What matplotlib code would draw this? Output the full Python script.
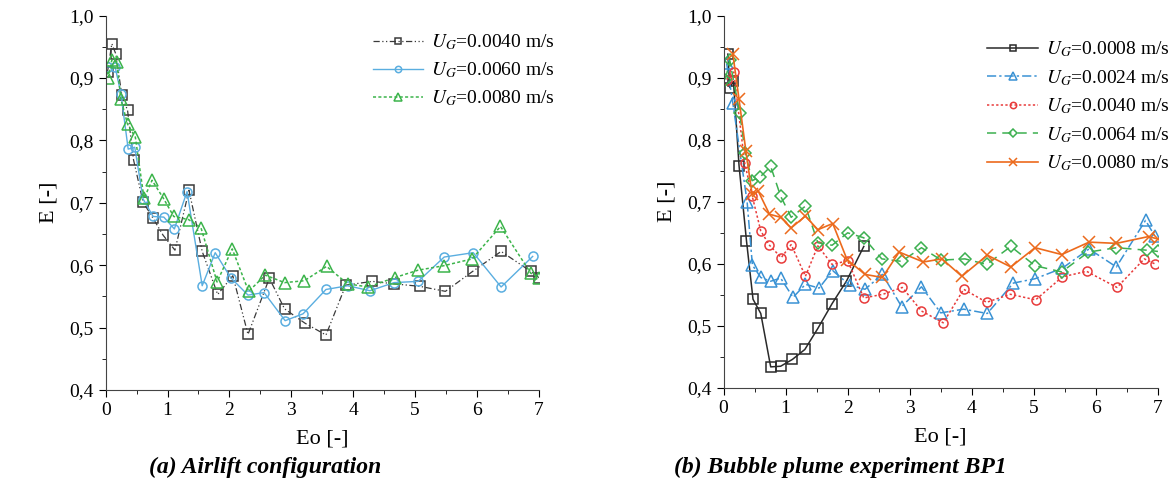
import numpy as np
import matplotlib.pyplot as plt
from matplotlib.ticker import MultipleLocator, FuncFormatter

plt.rcParams['font.family'] = ['Liberation Serif', 'DejaVu Serif']
plt.rcParams['mathtext.fontset'] = 'stix'

# (a) Airlift configuration
a_eo_40 = [0.03, 0.10, 0.166, 0.26, 0.354, 0.45, 0.605, 0.767, 0.928, 1.12, 1.346, 1.56, 1.81,
           2.055, 2.30, 2.645, 2.89, 3.22, 3.56, 3.88, 4.31, 4.66, 5.08, 5.49, 5.93, 6.39, 6.87, 7.0]
a_e_40 = [0.91, 0.955, 0.938, 0.873, 0.848, 0.769, 0.701, 0.675, 0.648, 0.624, 0.72, 0.622, 0.553,
          0.583, 0.489, 0.579, 0.530, 0.507, 0.488, 0.568, 0.574, 0.570, 0.566, 0.558, 0.590, 0.622, 0.590, 0.58]
a_eo_60 = [0.03, 0.155, 0.246, 0.364, 0.47, 0.605, 0.767, 0.94, 1.11, 1.315, 1.56, 1.77, 2.02,
           2.30, 2.56, 2.90, 3.19, 3.56, 3.91, 4.27, 4.66, 5.05, 5.47, 5.94, 6.39, 6.90]
a_e_60 = [0.918, 0.917, 0.875, 0.786, 0.789, 0.706, 0.678, 0.677, 0.658, 0.718, 0.567, 0.620, 0.580,
          0.552, 0.556, 0.511, 0.522, 0.561, 0.567, 0.559, 0.572, 0.574, 0.613, 0.620, 0.565, 0.614]
a_eo_80 = [0.04, 0.10, 0.18, 0.246, 0.354, 0.48, 0.62, 0.75, 0.94, 1.10, 1.34, 1.54, 1.80, 2.045,
           2.31, 2.58, 2.89, 3.21, 3.57, 3.91, 4.245, 4.67, 5.05, 5.46, 5.92, 6.38, 6.87, 7.0]
a_e_80 = [0.90, 0.929, 0.926, 0.866, 0.826, 0.805, 0.707, 0.736, 0.706, 0.678, 0.673, 0.660, 0.573, 0.626,
          0.558, 0.584, 0.572, 0.575, 0.598, 0.570, 0.565, 0.580, 0.592, 0.599, 0.610, 0.662, 0.587, 0.58]

# (b) Bubble plume experiment BP1
b_eo_08 = [0.07, 0.10, 0.16, 0.25, 0.37, 0.475, 0.6, 0.76, 0.92, 1.11, 1.31, 1.52, 1.75, 1.98, 2.26]
b_e_08 = [0.938, 0.884, 0.894, 0.758, 0.637, 0.543, 0.520, 0.434, 0.435, 0.446, 0.462, 0.496, 0.536, 0.572, 0.628]
b_eo_24 = [0.05, 0.15, 0.38, 0.465, 0.6, 0.76, 0.92, 1.12, 1.32, 1.54, 1.76, 2.03, 2.28, 2.56, 2.87,
           3.19, 3.50, 3.87, 4.25, 4.67, 5.02, 5.46, 5.89, 6.33, 6.80, 6.95]
b_e_24 = [0.923, 0.859, 0.700, 0.598, 0.578, 0.572, 0.577, 0.546, 0.567, 0.561, 0.589, 0.566, 0.559, 0.583, 0.531,
          0.563, 0.521, 0.527, 0.520, 0.569, 0.576, 0.593, 0.624, 0.595, 0.670, 0.645]
b_eo_40 = [0.05, 0.165, 0.34, 0.46, 0.6, 0.74, 0.93, 1.09, 1.32, 1.52, 1.75, 2.0, 2.26, 2.57, 2.88,
           3.19, 3.54, 3.87, 4.24, 4.62, 5.03, 5.46, 5.85, 6.34, 6.78, 6.95]
b_e_40 = [0.897, 0.909, 0.763, 0.710, 0.653, 0.630, 0.610, 0.631, 0.580, 0.629, 0.599, 0.605, 0.545, 0.551, 0.562,
          0.524, 0.505, 0.559, 0.538, 0.551, 0.542, 0.579, 0.588, 0.562, 0.608, 0.60]
b_eo_64 = [0.03, 0.10, 0.26, 0.35, 0.46, 0.59, 0.76, 0.92, 1.09, 1.32, 1.52, 1.75, 2.0, 2.26, 2.55, 2.87,
           3.19, 3.51, 3.89, 4.24, 4.63, 5.02, 5.45, 5.88, 6.33, 6.82, 7.0]
b_e_64 = [0.897, 0.928, 0.843, 0.779, 0.734, 0.740, 0.757, 0.709, 0.675, 0.693, 0.634, 0.630, 0.650, 0.642, 0.608, 0.604,
          0.626, 0.606, 0.608, 0.599, 0.628, 0.597, 0.587, 0.619, 0.626, 0.622, 0.62]
b_eo_80 = [0.15, 0.25, 0.36, 0.46, 0.56, 0.74, 0.92, 1.09, 1.32, 1.52, 1.76, 1.99, 2.28, 2.56, 2.83,
           3.22, 3.52, 3.84, 4.25, 4.63, 5.02, 5.45, 5.89, 6.33, 6.85, 7.0]
b_e_80 = [0.938, 0.865, 0.782, 0.712, 0.717, 0.680, 0.675, 0.658, 0.677, 0.655, 0.665, 0.607, 0.583, 0.578, 0.619,
          0.603, 0.608, 0.580, 0.614, 0.595, 0.626, 0.615, 0.635, 0.633, 0.644, 0.64]

fig = plt.figure(figsize=(11.74, 4.88), dpi=100)
ax1 = fig.add_axes([0.090, 0.201, 0.369, 0.767])
ax2 = fig.add_axes([0.6163, 0.205, 0.370, 0.763])

comma = FuncFormatter(lambda v, p: f'{v:.1f}'.replace('.', ','))

for ax in (ax1, ax2):
    ax.set_xlim(0, 7)
    ax.set_ylim(0.4, 1.0)
    ax.spines['top'].set_visible(False)
    ax.spines['right'].set_visible(False)
    ax.xaxis.set_major_locator(MultipleLocator(1))
    ax.xaxis.set_minor_locator(MultipleLocator(0.5))
    ax.yaxis.set_major_locator(MultipleLocator(0.1))
    ax.yaxis.set_minor_locator(MultipleLocator(0.05))
    ax.yaxis.set_major_formatter(comma)
    ax.tick_params(which='major', direction='out', length=5, labelsize=14)
    ax.tick_params(which='minor', direction='out', length=3)
    ax.set_xlabel('Eo [-]', fontsize=16, labelpad=8)
    ax.set_ylabel('E [-]', fontsize=16, labelpad=8)
    for sp in ax.spines.values():
        sp.set_color('#444444')

ms = dict(markerfacecolor='none', markeredgewidth=1.1)
ax1.plot(a_eo_40, a_e_40, color='#3a3a3a', ls=(0, (5, 2, 1, 2, 1, 2)), lw=0.9, marker='s', ms=6.5,
         label=r'$U_G$=0.0040 m/s', **ms)
ax1.plot(a_eo_60, a_e_60, color='#5aaee0', ls='-', lw=1.0, marker='o', ms=6.5,
         label=r'$U_G$=0.0060 m/s', **ms)
ax1.plot(a_eo_80, a_e_80, color='#3cb44b', ls=(0, (2, 1.5)), lw=1.1, marker='^', ms=8,
         label=r'$U_G$=0.0080 m/s', **ms)

ax2.plot(b_eo_08, b_e_08, color='#2a2a2a', ls='-', lw=1.1, marker='s', ms=6.5,
         label=r'$U_G$=0.0008 m/s', **ms)
ax2.plot(b_eo_24, b_e_24, color='#3a92d4', ls=(0, (6, 2, 1.5, 2)), lw=1.1, marker='^', ms=8,
         label=r'$U_G$=0.0024 m/s', **ms)
ax2.plot(b_eo_40, b_e_40, color='#e83b3b', ls=(0, (1.5, 1.5)), lw=1.1, marker='o', ms=6.5,
         label=r'$U_G$=0.0040 m/s', **ms)
ax2.plot(b_eo_64, b_e_64, color='#3cb050', ls=(0, (6, 4)), lw=1.1, marker='D', ms=6,
         label=r'$U_G$=0.0064 m/s', **ms)
ax2.plot(b_eo_80, b_e_80, color='#ec6a1c', ls='-', lw=1.2, marker='x', ms=8,
         label=r'$U_G$=0.0080 m/s', **ms)

ax1.legend(loc='upper right', frameon=False, fontsize=14, handlelength=2.6, markerscale=0.7,
           labelspacing=0.42, handletextpad=0.4, borderaxespad=0.0, bbox_to_anchor=(1.055, 0.975))
ax2.legend(loc='upper right', frameon=False, fontsize=14, handlelength=2.6, markerscale=0.7,
           labelspacing=0.45, handletextpad=0.4, borderaxespad=0.0, bbox_to_anchor=(1.045, 0.956))

fig.text(0.226, 0.03, '(a) Airlift configuration', ha='center', fontsize=17,
         fontweight='bold', fontstyle='italic')
fig.text(0.716, 0.03, '(b) Bubble plume experiment BP1', ha='center', fontsize=17,
         fontweight='bold', fontstyle='italic')

fig.savefig('out.png', dpi=100)
